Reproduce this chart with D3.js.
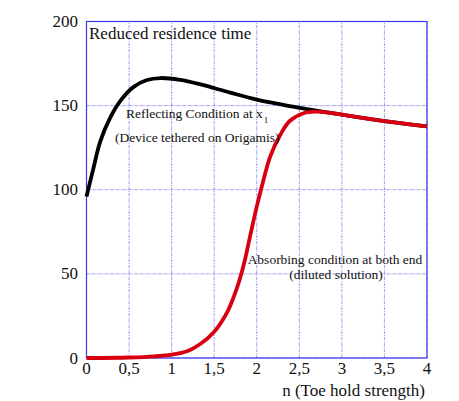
<!DOCTYPE html>
<html><head><meta charset="utf-8">
<script src="https://cdn.jsdelivr.net/npm/d3@7"></script>
<style>body{margin:0;background:#fff}svg{display:block}</style>
</head><body><svg id="c" width="459" height="401"></svg>
<script>
const xTicks = [0, 0.5, 1, 1.5, 2, 2.5, 3, 3.5, 4];
const xTickLabels = ["0", "0,5", "1", "1,5", "2", "2,5", "3", "3,5", "4"];
const yTicks = [0, 50, 100, 150, 200];
const reflectN = [0, 0.085, 0.16, 0.28, 0.4, 0.55, 0.71, 0.87, 1.1, 1.34, 1.69, 2.0, 2.47, 2.8, 3.0, 3.5, 4.0];
const reflectV = [96, 113.5, 128.5, 143, 153, 161, 165.2, 166.4, 165.3, 162.6, 157.7, 153.6, 149, 146.2, 144.6, 140.8, 137.6];
const absorbN = [0, 0.5, 0.8, 1.0, 1.18, 1.34, 1.49, 1.65, 1.77, 1.85, 1.92, 2.0, 2.08, 2.16, 2.28, 2.39, 2.55, 2.7, 2.8, 3.0, 3.5, 4.0];
const absorbV = [0, 0.3, 1, 2, 4, 8.5, 15, 27, 42, 56, 72, 90, 106, 120, 133, 141, 145.5, 146.4, 146.1, 144.6, 140.8, 137.6];

const FONT = "Liberation Serif";
const svg = d3.select("#c");
const x = d3.scaleLinear().domain([0, 4]).range([86.5, 427]);
const y = d3.scaleLinear().domain([0, 200]).range([358, 21.5]);
const gridColor = "#5a5af0";

const g = svg.append("g");
function txt(sel) { return sel.attr("font-family", FONT).attr("fill", "#111"); }
// grid
g.selectAll(".vg").data(xTicks).enter().append("line")
  .attr("x1", d => x(d)).attr("x2", d => x(d)).attr("y1", y(0)).attr("y2", y(200))
  .attr("stroke", gridColor).attr("stroke-width", 1).attr("stroke-dasharray", "3,1,1,1").attr("opacity", 0.6);
g.selectAll(".hg").data(yTicks).enter().append("line")
  .attr("y1", d => y(d)).attr("y2", d => y(d)).attr("x1", x(0)).attr("x2", x(4))
  .attr("stroke", gridColor).attr("stroke-width", 1).attr("stroke-dasharray", "3,1,1,1").attr("opacity", 0.6);
// frame
g.append("rect").attr("x", x(0)).attr("y", y(200)).attr("width", x(4) - x(0)).attr("height", y(0) - y(200))
  .attr("fill", "none").attr("stroke", "#3a3ae8").attr("stroke-width", 1.2);

// tick labels
txt(g.selectAll(".xt").data(xTicks).enter().append("text"))
  .attr("x", d => x(d)).attr("y", 374).attr("text-anchor", "middle").attr("font-size", 17)
  .text((d, i) => xTickLabels[i]);
txt(g.selectAll(".yt").data(yTicks).enter().append("text"))
  .attr("x", 78).attr("y", d => y(d) + 5.5).attr("text-anchor", "end").attr("font-size", 17)
  .text(d => d);

const line = d3.line().curve(d3.curveCatmullRom.alpha(0.5));
g.append("path").attr("d", line(reflectN.map((n, i) => [x(n), y(reflectV[i])])))
  .attr("fill", "none").attr("stroke", "#000").attr("stroke-width", 3.8);
g.append("path").attr("d", line(absorbN.map((n, i) => [x(n), y(absorbV[i])])))
  .attr("fill", "none").attr("stroke", "#d80010").attr("stroke-width", 3.8);

// annotations
txt(g.append("text")).attr("x", 89).attr("y", 39).attr("font-size", 17).text("Reduced residence time");
const t1 = txt(g.append("text")).attr("x", 126).attr("y", 118).attr("font-size", 13.5);
t1.append("tspan").text("Reflecting Condition at x");
t1.append("tspan").attr("font-size", 9).attr("dx", 1).attr("dy", 5).text("1");
txt(g.append("text")).attr("x", 115).attr("y", 142).attr("font-size", 13.5).text("(Device tethered on Origamis)");
txt(g.append("text")).attr("x", 335).attr("y", 264).attr("text-anchor", "middle").attr("font-size", 13.5).text("Absorbing condition at both end");
txt(g.append("text")).attr("x", 336).attr("y", 279).attr("text-anchor", "middle").attr("font-size", 13.5).text("(diluted solution)");
txt(g.append("text")).attr("x", 425).attr("y", 396).attr("text-anchor", "end").attr("font-size", 17).text("n (Toe hold strength)");
</script></body></html>
